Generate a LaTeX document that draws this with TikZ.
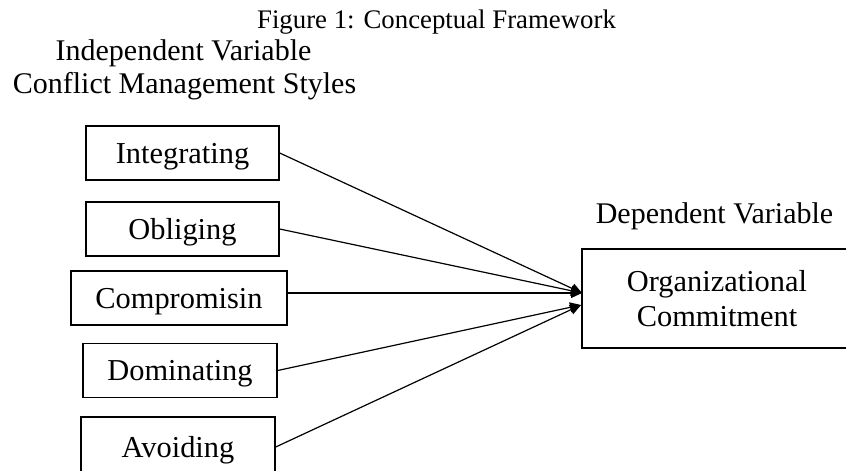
\documentclass[tikz,border=0pt]{standalone}
\usepackage{fontspec}
\setmainfont{Liberation Serif}
\usepackage{tikz}
\usetikzlibrary{arrows.meta}

\begin{document}
\begin{tikzpicture}[x=0.5pt,y=-0.5pt,
  varbox/.style={draw, line width=0.7pt, anchor=center, inner sep=0pt,
    minimum height=27pt, text height=10pt, text depth=0pt,
    font=\fontsize{15.2}{17.5}\selectfont},
  headtext/.style={anchor=base, inner sep=0pt, font=\fontsize{15}{17}\selectfont},
  link/.style={line width=0.6pt, -{Triangle[length=5.5pt,width=5pt]}}]

\useasboundingbox (0,0) rectangle (846,471);

%% title and headings
\node [anchor=base, inner sep=0pt, font=\fontsize{13.4}{16}\selectfont] at (436.5,28) (title) {Figure 1: Conceptual Framework};
\node [headtext] at (183.5,61) (indep) {Independent Variable};
\node [headtext] at (184.5,93) (styles) {Conflict Management Styles};
\node [headtext] at (714.5,223) (dep) {Dependent Variable};

%% the five styles
\node [varbox,minimum width=96.5pt] at (182.5,153) (int) {Integrating};
\node [varbox,minimum width=96.5pt] at (182.5,229) (obl) {Obliging};
\node [varbox,minimum width=108pt] at (179,298) (com) {Compromisin};
\node [varbox,minimum width=97pt] at (180,370.5) (dom) {Dominating};
\node [varbox,minimum width=97pt,minimum height=30pt] at (178,447) (avo) {Avoiding};

%% dependent variable, its right side runs off the page
\node [varbox,minimum width=135pt,minimum height=49.5pt,text height=,text depth=,align=center] at (717,298.5) (oc) {Organizational\\Commitment};

\coordinate (tipU) at (582,293);
\coordinate (tipL) at (581,305);

\draw [link] (int.east) -- (tipU);
\draw [link] (obl.east) -- (tipU);
\draw [link] (com.east |- tipU) -- (tipU);
\draw [link] (dom.east) -- (tipL);
\draw [link] (avo.east) -- (tipL);
\end{tikzpicture}
\end{document}
